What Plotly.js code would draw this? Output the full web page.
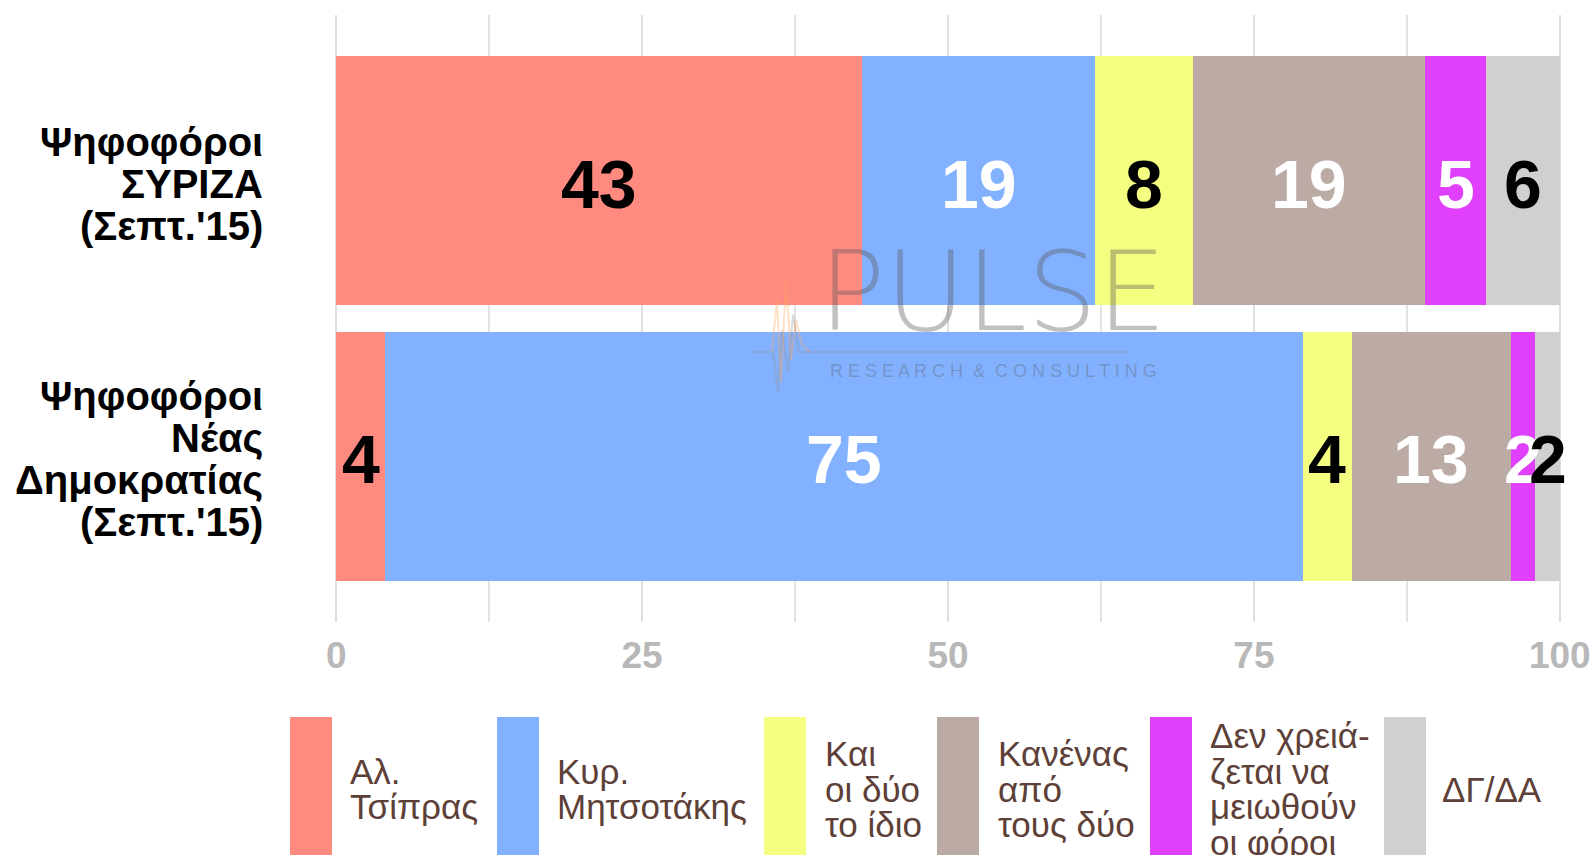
<!DOCTYPE html>
<html>
<head>
<meta charset="utf-8">
<script src="https://cdn.plot.ly/plotly-3.0.1.min.js"></script>
<style>
  html, body { margin: 0; padding: 0; background: #ffffff; }
  #chart { width: 1593px; height: 855px; }
</style>
</head>
<body>
<div id="chart"></div>
<script>
// ---------------- DATA ----------------
const categories = [
  "Ψηφοφόροι<br>ΣΥΡΙΖΑ<br>(Σεπτ.'15)",
  "Ψηφοφόροι<br>Νέας<br>Δημοκρατίας<br>(Σεπτ.'15)"
];
const seriesNames = [
  "Αλ.<br>Τσίπρας",
  "Κυρ.<br>Μητσοτάκης",
  "Και<br>οι δύο<br>το ίδιο",
  "Κανένας<br>από<br>τους δύο",
  "Δεν χρειά-<br>ζεται να<br>μειωθούν<br>οι φόροι",
  "ΔΓ/ΔΑ"
];
const tsipras    = [43, 4];
const mitsotakis = [19, 75];
const both       = [8, 4];
const neither    = [19, 13];
const noNeed     = [5, 2];
const dkna       = [6, 2];
const xTickVals  = [0, 25, 50, 75, 100];
const xTickText  = ["0", "25", "50", "75", "100"];

// ---------------- STYLE ----------------
const seriesValues = [tsipras, mitsotakis, both, neither, noNeed, dkna];
const colors = ["#FF8A80", "#82B1FF", "#F4FF81", "#BCAAA4", "#E040FB", "#D0D0D0"];
const labelColors = ["#000000", "#ffffff", "#000000", "#ffffff", "#ffffff", "#000000"];
const FONT = "Liberation Sans, Arial, Helvetica, sans-serif";

const W = 1593, H = 855;
const M = { l: 335, r: 32, t: 15, b: 233 };
const PW = W - M.l - M.r, PH = H - M.t - M.b;
const px2x = p => (p - M.l) / PW;
const px2y = p => (H - M.b - p) / PH;

const traces = [];
seriesValues.forEach((vals, i) => {
  traces.push({
    type: "bar",
    orientation: "h",
    y: categories,
    x: vals,
    name: seriesNames[i].replace(/<br>/g, " "),
    marker: { color: colors[i], line: { width: 0 } },
    hoverinfo: "x+name",
    showlegend: false
  });
});

const annotations = [];
const shapes = [];

// value labels at segment midpoints (data coordinates)
const cum = categories.map(() => 0);
seriesValues.forEach((vals, i) => {
  vals.forEach((v, k) => {
    const m = cum[k] + v / 2; cum[k] += v;
    annotations.push({
      xref: "x", yref: "y", x: m, y: categories[k],
      xanchor: "center", yanchor: "middle", yshift: -3,
      text: String(v), showarrow: false,
      font: { family: FONT, size: 68, color: labelColors[i], weight: 700 }
    });
  });
});

// category labels (one annotation per line for tight line spacing)
const yLineGap = 42;
categories.forEach(cat => {
  const lines = cat.split("<br>");
  const n = lines.length;
  lines.forEach((ln, j) => {
    const off = (j - (n - 1) / 2) * yLineGap + 3;
    annotations.push({
      xref: "paper", yref: "y",
      x: px2x(265), y: cat,
      xanchor: "right", yanchor: "middle",
      yshift: -off,
      text: ln, showarrow: false,
      font: { family: FONT, size: 40, color: "#000000", weight: 700 }
    });
  });
});

// custom legend
const swatchX = [290, 497, 764, 937, 1150, 1384];
const textX   = [348, 555, 823, 996, 1208, 1440];
const legLineGap = 35.5, legCenter = 789;
seriesNames.forEach((nm, i) => {
  shapes.push({
    type: "rect", xref: "paper", yref: "paper",
    x0: px2x(swatchX[i]), x1: px2x(swatchX[i] + 42),
    y0: px2y(717), y1: px2y(855),
    fillcolor: colors[i], line: { width: 0 }, layer: "above"
  });
  const lines = nm.split("<br>");
  const n = lines.length;
  lines.forEach((ln, j) => {
    const yc = legCenter + (j - (n - 1) / 2) * legLineGap;
    annotations.push({
      xref: "paper", yref: "paper",
      x: px2x(textX[i]), y: px2y(yc),
      xanchor: "left", yanchor: "middle",
      text: ln, showarrow: false,
      font: { family: FONT, size: 35, color: "#5D4037" }
    });
  });
});

// watermark
annotations.push({
  xref: "paper", yref: "paper", x: px2x(992), y: px2y(292),
  xanchor: "center", yanchor: "middle", showarrow: false,
  text: "PULSE",
  font: { family: "DejaVu Sans, Lato, sans-serif", size: 110, color: "rgba(90,90,90,0.38)", weight: 200 }
});
annotations.push({
  xref: "paper", yref: "paper", x: px2x(993), y: px2y(371),
  xanchor: "center", yanchor: "middle", showarrow: false,
  text: "R E S E A R C H  &  C O N S U L T I N G",
  font: { family: FONT, size: 18, color: "rgba(90,90,90,0.35)" }
});
const hbGray = [[752,352],[773,352],[778,392],[782,330],[788,372],[793,315],[799,352],[1128,352]];
const hbOrange = [[772,352],[777,300],[781,382],[786,280],[791,360],[796,320],[802,345],[810,352]];
[[hbGray, "rgba(150,150,150,0.35)"], [hbOrange, "rgba(255,170,90,0.35)"]].forEach(([pts, col]) => {
  shapes.push({
    type: "path", xref: "paper", yref: "paper",
    path: pts.map((p, k) => (k ? "L" : "M") + px2x(p[0]).toFixed(5) + "," + px2y(p[1]).toFixed(5)).join(" "),
    line: { color: col, width: 2 }, layer: "above"
  });
});

const layout = {
  width: W, height: H,
  margin: M,
  paper_bgcolor: "#ffffff",
  plot_bgcolor: "#ffffff",
  barmode: "stack",
  bargap: 0.1,
  showlegend: false,
  font: { family: FONT },
  xaxis: {
    range: [-0.1, 100.1],
    tickvals: xTickVals,
    ticktext: xTickText,
    showgrid: true, gridcolor: "#E0E0E0", gridwidth: 2,
    minor: { dtick: 12.5, tick0: 0, showgrid: true, gridcolor: "#E3E3E3", gridwidth: 2, ticks: "" },
    zeroline: false, showline: false, ticks: "",
    ticklabelstandoff: 8,
    tickfont: { family: FONT, size: 37, color: "#B8B8B8", weight: 700 },
    fixedrange: true
  },
  yaxis: {
    type: "category",
    categoryorder: "array", categoryarray: categories,
    range: [1.6, -0.6],
    showgrid: false, zeroline: false, showline: false,
    showticklabels: false, ticks: "",
    fixedrange: true
  },
  annotations: annotations,
  shapes: shapes
};

Plotly.newPlot("chart", traces, layout, { displayModeBar: false, staticPlot: true });
</script>
</body>
</html>
